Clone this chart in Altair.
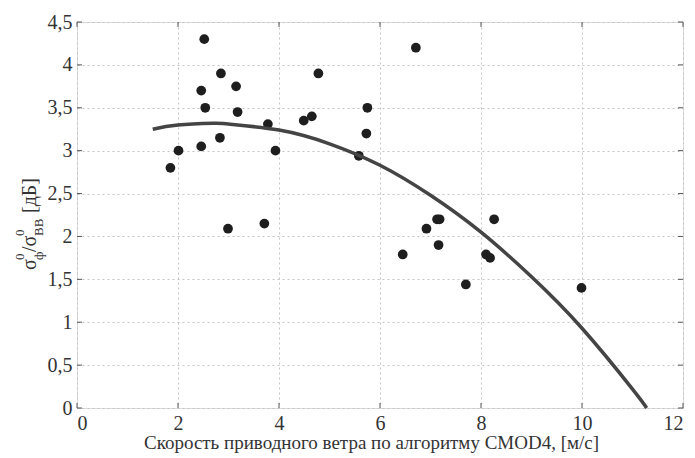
import altair as alt
import pandas as pd

# ---- data ----
wind = [1.85, 2.01, 2.52, 2.46, 2.54, 2.46, 2.85, 2.83, 2.99, 3.15, 3.18, 3.71, 3.78, 3.93,
        4.49, 4.65, 4.78, 5.58, 5.73, 5.75, 6.71, 6.45, 6.92, 7.13, 7.18, 7.16, 7.70, 8.10,
        8.18, 8.26, 9.99]
ratio = [2.80, 3.00, 4.30, 3.70, 3.50, 3.05, 3.90, 3.15, 2.09, 3.75, 3.45, 2.15, 3.31, 3.00,
         3.35, 3.40, 3.90, 2.94, 3.20, 3.50, 4.20, 1.79, 2.09, 2.20, 2.20, 1.90, 1.44, 1.79,
         1.75, 2.20, 1.40]

fit_x = [1.5, 2.0, 2.7, 3.0, 4.0, 5.0, 6.0, 7.0, 8.0, 9.0, 10.0, 11.0, 11.28]
fit_y = [3.25, 3.30, 3.32, 3.31, 3.24, 3.08, 2.83, 2.48, 2.05, 1.53, 0.93, 0.22, 0.0]

x_ticks = [0, 2, 4, 6, 8, 10, 12]
y_ticks = [0, 0.5, 1, 1.5, 2, 2.5, 3, 3.5, 4, 4.5]

x_title = "Скорость приводного ветра по алгоритму CMOD4, [м/с]"
ylab_text = ["σ", "0", "ф", "/σ", "0", "ВВ", "[дБ]"]
ylab_kind = ["main", "sup", "sub", "main", "sup", "sub", "main"]

# ---- layout / style ----
W, H = 606, 386
FONT = "Liberation Serif, Times New Roman, serif"
TXT = "#333333"

pts_df = pd.DataFrame({"wind": wind, "ratio": ratio})
fit_df = pd.DataFrame({"wind": fit_x, "ratio": fit_y})
xt_df = pd.DataFrame({"v": x_ticks})
yt_df = pd.DataFrame({"v": y_ticks})

xscale = alt.Scale(domain=[0, 12], nice=False)
yscale = alt.Scale(domain=[0, 4.5], nice=False)
num_expr = "replace(format(datum.value, '~g'), '.', ',')"

xaxis = alt.Axis(values=x_ticks, title=x_title, labelExpr=num_expr, grid=True,
                 gridDash=[2, 3], gridColor="#c4c4c4", domain=False, ticks=False,
                 labelFont=FONT, labelFontSize=20, labelColor=TXT, labelPadding=5,
                 titleFont=FONT, titleFontSize=19, titleFontWeight="normal",
                 titleColor=TXT, titlePadding=0, titleX=294, titleAlign="center")
yaxis = alt.Axis(values=y_ticks, title=None, labelExpr=num_expr, grid=True,
                 gridDash=[2, 3], gridColor="#c4c4c4", domain=False, ticks=False,
                 labelFont=FONT, labelFontSize=20, labelColor=TXT, labelPadding=5)

base = alt.Chart(pts_df)
points = base.mark_point(filled=True, shape="circle", size=95, color="#1e1e1e",
                         opacity=1).encode(
    x=alt.X("wind:Q", scale=xscale, axis=xaxis),
    y=alt.Y("ratio:Q", scale=yscale, axis=yaxis),
)

curve = alt.Chart(fit_df).mark_line(color="#444444", strokeWidth=3.5,
                                    interpolate="natural").encode(
    x=alt.X("wind:Q", scale=xscale),
    y=alt.Y("ratio:Q", scale=yscale),
)

tick_color = "#555555"
xt_bottom = alt.Chart(xt_df).mark_rule(color=tick_color, strokeWidth=1).encode(
    x=alt.X("v:Q", scale=xscale), y=alt.value(H), y2=alt.value(H - 5))
xt_top = alt.Chart(xt_df).mark_rule(color=tick_color, strokeWidth=1).encode(
    x=alt.X("v:Q", scale=xscale), y=alt.value(0), y2=alt.value(5))
yt_left = alt.Chart(yt_df).mark_rule(color=tick_color, strokeWidth=1).encode(
    y=alt.Y("v:Q", scale=yscale), x=alt.value(0), x2=alt.value(5))
yt_right = alt.Chart(yt_df).mark_rule(color=tick_color, strokeWidth=1).encode(
    y=alt.Y("v:Q", scale=yscale), x=alt.value(W), x2=alt.value(W - 5))

# rotated y-axis title assembled from pieces (super/subscripts)
seg_y = [248, 238, 238, 230, 214, 214, 191]
seg_x = {"main": -41, "sup": -53, "sub": -34}
seg_size = {"main": 20, "sup": 13, "sub": 13}
ylabel_layers = []
for t, k, yy in zip(ylab_text, ylab_kind, seg_y):
    lab_df = pd.DataFrame({"t": [t]})
    ylabel_layers.append(
        alt.Chart(lab_df).mark_text(angle=270, align="left", baseline="alphabetic",
                                    font=FONT, fontSize=seg_size[k], color=TXT).encode(
            text="t:N", x=alt.value(seg_x[k]), y=alt.value(yy))
    )

chart = alt.layer(points, curve, xt_bottom, xt_top, yt_left, yt_right, *ylabel_layers).properties(
    width=W, height=H,
    autosize=alt.AutoSizeParams(type="none"),
    padding={"left": 69, "top": 14, "right": 4, "bottom": 50},
).configure_view(stroke="#8a8a8a", strokeWidth=2).configure(background="white")

chart.save("out.html", embed_options={"renderer": "svg", "actions": False})
